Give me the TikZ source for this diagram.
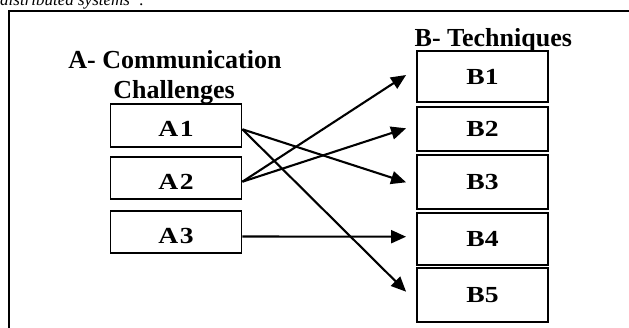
\documentclass[tikz,border=0pt]{standalone}
\usepackage{fontspec}
\setmainfont{Liberation Serif}
\newfontfamily\widefont[FakeStretch=1.2]{Liberation Serif}
\usetikzlibrary{arrows.meta}
\begin{document}
\begin{tikzpicture}[x=1pt,y=-1pt,
  boxa/.style={draw,line width=1.8pt,minimum width=131pt,inner sep=0pt,
    text height=22pt,text depth=0pt,font=\widefont\bfseries\fontsize{23}{23}\selectfont},
  boxb/.style={draw,line width=1.8pt,minimum width=131.6pt,inner sep=0pt,
    font=\widefont\bfseries\fontsize{23}{23}\selectfont},
  title/.style={anchor=base,inner sep=0pt,font=\bfseries\fontsize{26}{26}\selectfont},
  conn/.style={line width=2.1pt,-{Triangle[length=15pt,width=13pt]}}]
\useasboundingbox (0,0) rectangle (629,327);
\clip (0,0) rectangle (629,327);
\node[anchor=base west,inner sep=0pt,font=\itshape\fontsize{17}{17}\selectfont] (cap) at (0,5) {distributed systems”.};
\draw[line width=2.2pt] (8.7,330) -- (8.7,11) -- (632,11);
\node[title] (ta1) at (175,68) {A- Communication};
\node[title] (ta2) at (174,98) {Challenges};
\node[title] (tb) at (493.3,46) {B- Techniques};
\node[boxa,minimum height=43pt] (A1) at (176,125.8) {A\kern1.5pt 1};
\node[boxa,minimum height=42.6pt] (A2) at (176,178) {A\kern1.5pt 2};
\node[boxa,minimum height=42.6pt] (A3) at (176,232) {A\kern1.5pt 3};
\node[boxb,minimum height=51.6pt] (B1) at (482.5,76.5) {B1};
\node[boxb,minimum height=43.7pt] (B2) at (482.5,129.2) {B2};
\node[boxb,minimum height=54pt] (B3) at (482.5,182) {B3};
\node[boxb,minimum height=51.7pt] (B4) at (482.5,239.2) {B4};
\node[boxb,minimum height=53.4pt] (B5) at (482.5,295) {B5};
\draw[conn] ([yshift=-3.5pt]A1.east) -- ([xshift=-9.7pt,yshift=-0.3pt]B3.west);
\draw[conn] ([yshift=-3.5pt]A1.east) -- ([xshift=-9.7pt,yshift=3.3pt]B5.west);
\draw[conn] ([yshift=-3.7pt]A2.east) -- ([xshift=-9.7pt,yshift=1.5pt]B1.west);
\draw[conn] ([yshift=-3.7pt]A2.east) -- ([xshift=-9.7pt,yshift=0.9pt]B2.west);
\draw[conn] ([yshift=-4.5pt]A3.east) -- ([xshift=-9.7pt,yshift=2.5pt]B4.west);
\end{tikzpicture}
\end{document}
